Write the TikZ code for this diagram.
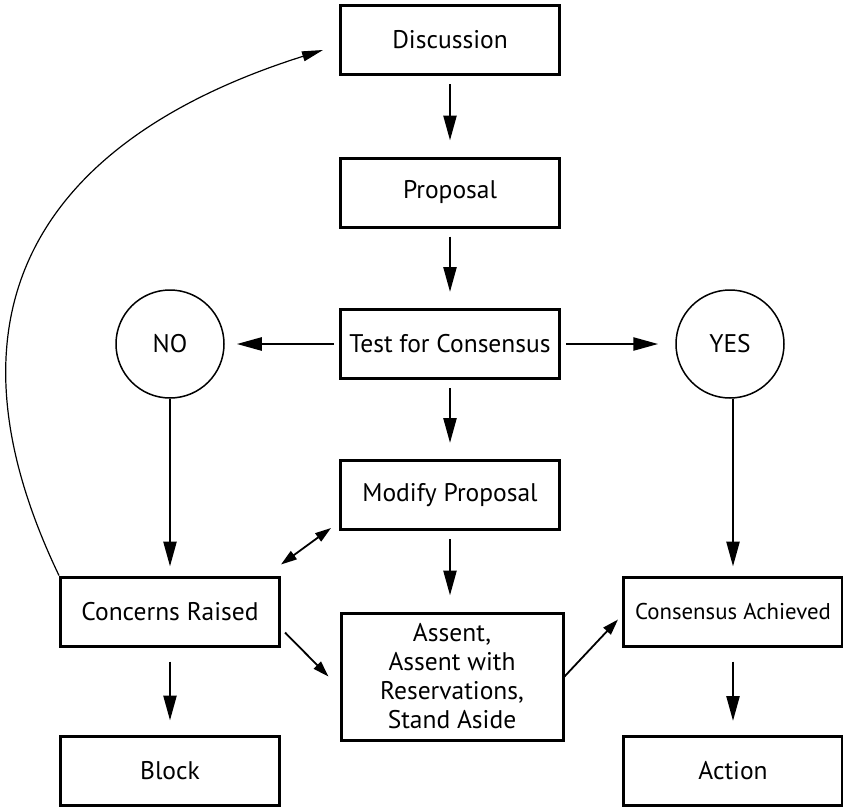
\documentclass[tikz,border=0pt]{standalone}
\usepackage{fontspec}
\setmainfont{PT Sans}
\usetikzlibrary{arrows.meta}

\begin{document}
\begin{tikzpicture}[
  x=1pt, y=-1pt,
  box/.style={draw, line width=3pt, minimum width=219pt, minimum height=69pt, inner sep=0pt, font=\fontsize{25.5}{29}\selectfont},
  ring/.style={draw, circle, line width=1.5pt, minimum size=108pt, inner sep=0pt, font=\fontsize{25.5}{29}\selectfont},
  arr/.style={line width=2.5pt, -{Triangle[length=25pt,width=13pt]}},
  down/.style={arr, shorten <=8pt, shorten >=16pt},
  thinarr/.style={line width=1.8pt, -{Triangle[length=16pt,width=10pt]}},
  both/.style={line width=1.8pt, {Triangle[length=16pt,width=10pt]}-{Triangle[length=16pt,width=10pt]}},
  back/.style={line width=1.2pt, -{Triangle[length=21pt,width=10pt]}}
  ]
  \useasboundingbox (0,0) rectangle (843,809);
  \node[box] (disc) at (450,40) {Discussion};
  \node[box] (prop) at (450,192.5) {Proposal};
  \node[box] (test) at (450,344) {Test for Consensus};
  \node[ring] (no) at (170,344) {NO};
  \node[ring] (yes) at (730,344) {YES};
  \node[box] (mod) at (450,495) {Modify Proposal};
  \node[box] (conc) at (170,611.5) {Concerns Raised};
  \node[box, minimum width=222pt, minimum height=127pt, align=center, font=\fontsize{25.5}{29}\selectfont] (assent) at (452,676.5) {Assent,\\Assent with\\Reservations,\\Stand Aside};
  \node[box, font=\fontsize{22.8}{26}\selectfont] (ach) at (733,611.5) {Consensus Achieved};
  \node[box] (block) at (170,770.5) {Block};
  \node[box] (action) at (733,771) {Action};
  \coordinate (ret) at (323,50);

  \draw[down] (disc) -- (prop);
  \draw[down] (prop) -- (test);
  \draw[down] (test) -- (mod);
  \draw[down] (mod) -- (assent.north -| mod);
  \draw[arr, shorten <=5pt, shorten >=12pt] (test) -- (no);
  \draw[arr, shorten <=5pt, shorten >=17pt] (test) -- (yes);
  \draw[arr, shorten >=9pt] (no) -- (conc);
  \draw[arr, shorten >=9pt] (yes.south -| ach.north) -- (ach.north);
  \draw[arr, shorten <=14pt, shorten >=14pt] (conc) -- (block);
  \draw[arr, shorten <=14pt, shorten >=14pt] (ach) -- (action);
  \draw[both] ([shift={(0,-11)}]conc.north east) -- ([shift={(-8,-3)}]mod.south west);
  \draw[thinarr] ([shift={(4,21)}]conc.east) -- ([shift={(-11,0)}]assent.west);
  \draw[thinarr] (assent.east) -- ([shift={(-4,8)}]ach.west);
  \draw[back] (conc.north west) .. controls (-85,275) and (85,125) .. (ret);
\end{tikzpicture}
\end{document}
